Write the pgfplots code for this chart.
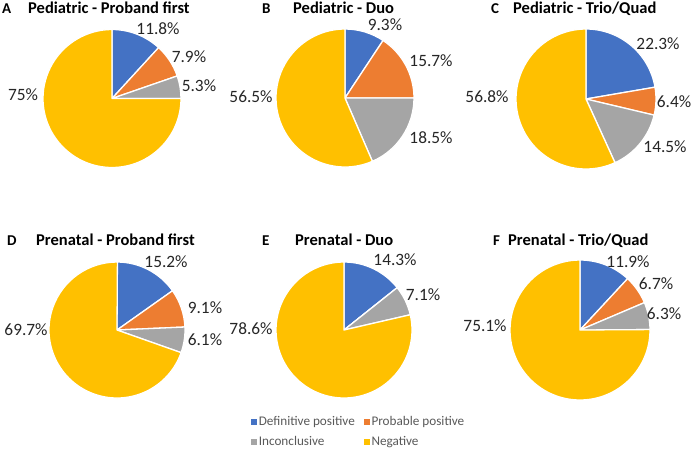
\documentclass[border=0pt]{standalone}
\usepackage{pgfplots}
\pgfplotsset{compat=1.18}
\usepackage{fontspec}
\setmainfont{Carlito}
\definecolor{pblue}{HTML}{4472C4}
\definecolor{porange}{HTML}{ED7D31}
\definecolor{pgray}{HTML}{A5A5A5}
\definecolor{pyellow}{HTML}{FFC000}
\definecolor{lgray}{HTML}{595959}
\definecolor{ltext}{HTML}{262626}

% one slice: cx cy r start end colour
\newcommand\pieslice[6]{%
  \edef\tmp{\noexpand\fill[#6, draw=white, line width=1.3pt, line join=round]
    (axis cs:#1,#2) -- ++(#4:#3pt) arc[start angle=#4, end angle=#5, radius=#3pt] -- cycle;}%
  \tmp}
% a pie: cx cy r definitive probable inconclusive negative (percent)
\newcommand\pie[7]{%
  \pgfmathsetmacro\pa{90}%
  \pgfmathsetmacro\pb{90-3.6*#4}%
  \pgfmathsetmacro\pc{\pb-3.6*#5}%
  \pgfmathsetmacro\pd{\pc-3.6*#6}%
  \pgfmathsetmacro\pe{\pd-3.6*#7}%
  \pieslice{#1}{#2}{#3}{\pa}{\pb}{pblue}%
  \pieslice{#1}{#2}{#3}{\pb}{\pc}{porange}%
  \pieslice{#1}{#2}{#3}{\pc}{\pd}{pgray}%
  \pieslice{#1}{#2}{#3}{\pd}{\pe}{pyellow}%
}
\newcommand\lab[3]{\node[text=ltext, inner sep=0pt, font=\fontsize{17.3}{19}\selectfont] at (axis cs:#1,#2) {#3};}

\begin{document}
\begin{tikzpicture}
\path[use as bounding box] (0,0) rectangle (691pt,451pt);
\begin{axis}[
  at={(0,0)}, anchor=south west,
  scale only axis, width=691pt, height=451pt,
  xmin=0, xmax=691, ymin=0, ymax=451,
  hide axis, clip=false,
  legend columns=2,
  legend style={at={(axis cs:251,37)}, anchor=north west, draw=none, fill=none,
    font=\fontsize{13.2}{15}\selectfont, text=lgray,
    /tikz/every even column/.append style={column sep=7pt},
    row sep=5.5pt, inner sep=0pt},
  legend cell align=left,
]
\addlegendimage{legend image code/.code={\fill[pblue] (0pt,-2.6pt) rectangle (5.2pt,2.6pt);}}
\addlegendentry{Definitive positive}
\addlegendimage{legend image code/.code={\fill[porange] (0pt,-2.6pt) rectangle (5.2pt,2.6pt);}}
\addlegendentry{Probable positive}
\addlegendimage{legend image code/.code={\fill[pgray] (0pt,-2.6pt) rectangle (5.2pt,2.6pt);}}
\addlegendentry{Inconclusive}
\addlegendimage{legend image code/.code={\fill[pyellow] (0pt,-2.6pt) rectangle (5.2pt,2.6pt);}}
\addlegendentry{Negative}

% pies: centre x, centre y, radius, definitive, probable, inconclusive, negative
\pie{112}{352.5}{69}{11.8}{7.9}{5.3}{75}
\pie{345}{353}{69}{9.3}{15.7}{18.5}{56.5}
\pie{586}{352}{70}{22.3}{6.4}{14.5}{56.8}
\pie{117}{121}{68}{15.2}{9.1}{6.1}{69.7}
\pie{344}{121}{68}{14.3}{0}{7.1}{78.6}
\pie{580}{121}{70}{11.9}{6.7}{6.3}{75.1}

% value labels
\lab{158}{422}{11.8\%}
\lab{189}{394}{7.9\%}
\lab{199}{365}{5.3\%}
\lab{23}{356}{75\%}
\lab{385}{426}{9.3\%}
\lab{431}{390}{15.7\%}
\lab{431}{313}{18.5\%}
\lab{251}{354}{56.5\%}
\lab{658}{407}{22.3\%}
\lab{674}{349}{6.4\%}
\lab{665}{304}{14.5\%}
\lab{487}{354}{56.8\%}
\lab{166}{189}{15.2\%}
\lab{205}{143}{9.1\%}
\lab{205}{111}{6.1\%}
\lab{26}{121}{69.7\%}
\lab{395}{191}{14.3\%}
\lab{423}{156}{7.1\%}
\lab{251}{122}{78.6\%}
\lab{628}{189}{11.9\%}
\lab{656}{167}{6.7\%}
\lab{664}{137}{6.3\%}
\lab{485}{125}{75.1\%}

% titles
\node[anchor=base west, inner sep=0pt, font=\fontsize{15}{18}\selectfont\bfseries] at (axis cs:2,437.7) {A};
\node[anchor=base west, inner sep=0pt, font=\fontsize{16.5}{18}\selectfont\bfseries] at (axis cs:28,437.7) {Pediatric - Proband first};
\node[anchor=base west, inner sep=0pt, font=\fontsize{15}{18}\selectfont\bfseries] at (axis cs:262,437.7) {B};
\node[anchor=base west, inner sep=0pt, font=\fontsize{16.5}{18}\selectfont\bfseries] at (axis cs:293,437.7) {Pediatric - Duo};
\node[anchor=base west, inner sep=0pt, font=\fontsize{15}{18}\selectfont\bfseries] at (axis cs:491,437.7) {C};
\node[anchor=base west, inner sep=0pt, font=\fontsize{16.5}{18}\selectfont\bfseries] at (axis cs:513,437.7) {Pediatric - Trio/Quad};
\node[anchor=base west, inner sep=0pt, font=\fontsize{15}{18}\selectfont\bfseries] at (axis cs:7,206) {D};
\node[anchor=base west, inner sep=0pt, font=\fontsize{16.5}{18}\selectfont\bfseries] at (axis cs:36,206) {Prenatal - Proband first};
\node[anchor=base west, inner sep=0pt, font=\fontsize{15}{18}\selectfont\bfseries] at (axis cs:262,206) {E};
\node[anchor=base west, inner sep=0pt, font=\fontsize{16.5}{18}\selectfont\bfseries] at (axis cs:295,206) {Prenatal - Duo};
\node[anchor=base west, inner sep=0pt, font=\fontsize{15}{18}\selectfont\bfseries] at (axis cs:493,206) {F};
\node[anchor=base west, inner sep=0pt, font=\fontsize{16.5}{18}\selectfont\bfseries] at (axis cs:508,206) {Prenatal - Trio/Quad};
\end{axis}
\end{tikzpicture}
\end{document}
